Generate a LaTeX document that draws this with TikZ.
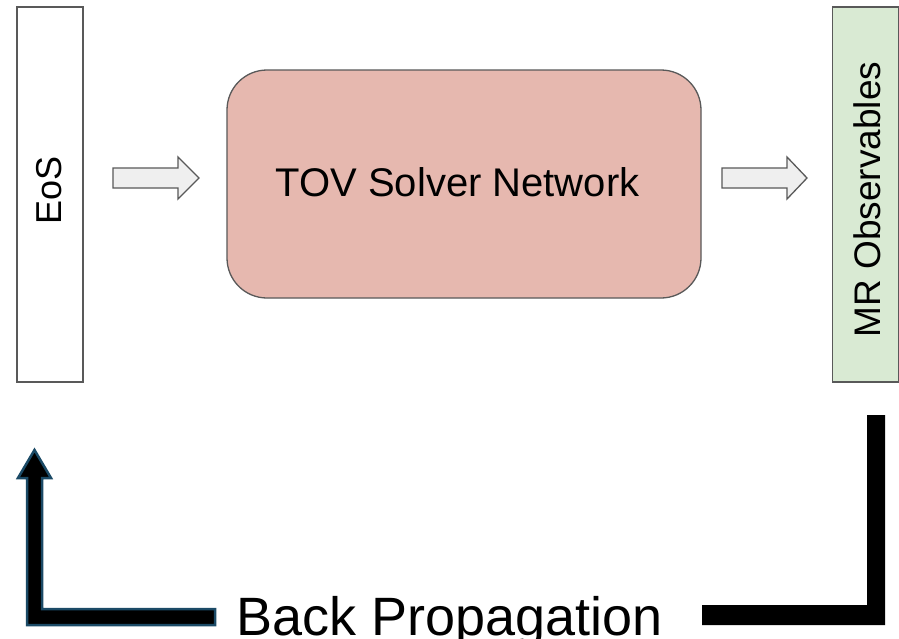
\documentclass[tikz,border=0pt]{standalone}
\usepackage{fontspec}
\setmainfont{Liberation Sans}
\usetikzlibrary{calc}
\definecolor{boxline}{HTML}{595959}
\definecolor{tovfill}{HTML}{E6B8AF}
\definecolor{mrfill}{HTML}{D9EAD3}
\definecolor{arrfill}{HTML}{EFEFEF}
\definecolor{bpblue}{HTML}{1B4A66}
\begin{document}
\begin{tikzpicture}[x=1pt,y=-1pt,
  sidebox/.style={draw=boxline, line width=1.3pt, rotate=90, minimum width=375pt, minimum height=66pt, inner sep=0pt},
  tovbox/.style={draw=boxline, line width=1.3pt, fill=tovfill, rounded corners=40pt, minimum width=474pt, minimum height=228pt, inner sep=0pt},
  sidelabel/.style={rotate=90, inner sep=0pt},
  blockarrow/.style={draw=boxline, line width=1.3pt, fill=arrfill, line join=miter},
  bpbar/.style={fill=black, draw=bpblue, line width=2.5pt, line join=miter},
  bplabel/.style={font=\fontsize{54}{60}\selectfont, inner sep=0pt, anchor=base west}]
\useasboundingbox (0,0) rectangle (899,638);
\fill[white] (0,0) rectangle (899,638);

\node[sidebox, fill=white] (eos) at (50,194.5) {};
\node[sidelabel, font=\fontsize{36}{40}\selectfont] (eoslabel) at (49,190) {EoS};

\node[tovbox] (tov) at (464,184) {};
\node[font=\fontsize{40}{44}\selectfont, inner sep=0pt, anchor=base] (tovlabel) at (457.5,196) {TOV Solver Network};

\node[sidebox, fill=mrfill] (mr) at (865.5,194.5) {};
\node[sidelabel, font=\fontsize{37}{40}\selectfont] (mrlabel) at (867,199.5) {MR Observables};

% block arrows
\coordinate (a1s) at (113,178);
\coordinate (a2s) at (722,178);
\draw[blockarrow] ($(a1s)+(0,-10)$) -- ++(65,0) -- ++(0,-11) -- ++(21,21) -- ++(-21,21) -- ++(0,-11) -- ++(-65,0) -- cycle;
\draw[blockarrow] ($(a2s)+(0,-10)$) -- ++(65,0) -- ++(0,-11) -- ++(20,21) -- ++(-20,21) -- ++(0,-11) -- ++(-65,0) -- cycle;

% back propagation
\node[bplabel] (bp) at (236,635) {Back Propagation};
\draw[bpbar] (215,609) -- (42,609) -- (42,478) -- (51,478) -- (34.5,450) -- (18,478) -- (27,478) -- (27,625) -- (215,625) -- cycle;
\fill[black] (702,605) -- (867,605) -- (867,415) -- (885,415) -- (885,625) -- (702,625) -- cycle;
\end{tikzpicture}
\end{document}
